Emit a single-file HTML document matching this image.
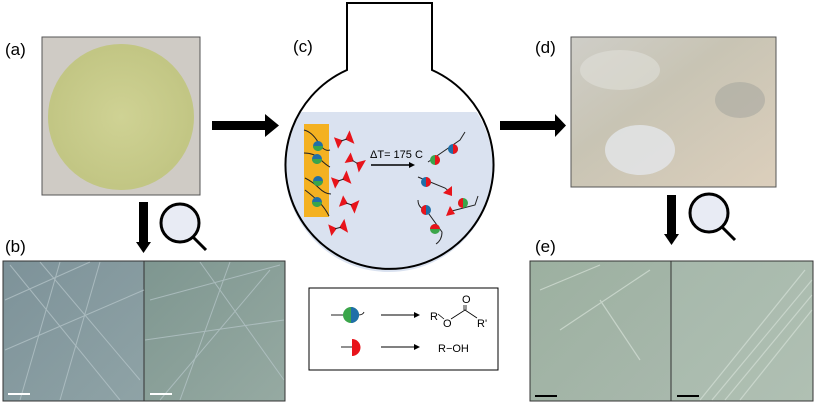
<!DOCTYPE html>
<html><head><style>
html,body{margin:0;padding:0;background:#fff;}
svg{display:block;font-family:"Liberation Sans",sans-serif;}
</style></head><body>
<svg width="817" height="406" viewBox="0 0 817 406" xmlns="http://www.w3.org/2000/svg">
<defs>
<radialGradient id="ga" cx="50%" cy="50%" r="60%"><stop offset="0" stop-color="#cfd294"/><stop offset="1" stop-color="#bfc380"/></radialGradient>
<linearGradient id="gd" x1="0" y1="0" x2="1" y2="1"><stop offset="0" stop-color="#cfcec8"/><stop offset="0.4" stop-color="#c8c4b4"/><stop offset="1" stop-color="#dccfbc"/></linearGradient>
<linearGradient id="gb1" x1="0" y1="0" x2="1" y2="1"><stop offset="0" stop-color="#7d9299"/><stop offset="1" stop-color="#8fa3a6"/></linearGradient>
<linearGradient id="gb2" x1="0" y1="0" x2="1" y2="1"><stop offset="0" stop-color="#7e9690"/><stop offset="1" stop-color="#96aaa2"/></linearGradient>
<linearGradient id="ge1" x1="0" y1="0" x2="1" y2="1"><stop offset="0" stop-color="#9cb0a0"/><stop offset="1" stop-color="#a8b8ac"/></linearGradient>
<linearGradient id="ge2" x1="0" y1="0" x2="1" y2="1"><stop offset="0" stop-color="#a6b8ab"/><stop offset="1" stop-color="#b0c0b3"/></linearGradient>
<clipPath id="fl"><circle cx="389" cy="168" r="104"/></clipPath>
</defs>

<!-- (a) -->
<text x="5" y="55" font-size="17">(a)</text>
<rect x="42" y="37" width="158" height="158" fill="#cfcbc5" stroke="#555" stroke-width="1"/>
<ellipse cx="121" cy="117" rx="73" ry="73" fill="url(#ga)"/>
<!-- arrow a->c -->
<rect x="212" y="121" width="55" height="9" fill="#000"/>
<polygon points="265,114 279,125.5 265,137" fill="#000"/>
<!-- down arrow -->
<rect x="139" y="202" width="9" height="42" fill="#000"/>
<polygon points="136,242 151,242 143.5,253" fill="#000"/>
<circle cx="180" cy="223" r="19" fill="#e8ebf4" stroke="#000" stroke-width="3"/>
<line x1="193" y1="237" x2="206" y2="250" stroke="#000" stroke-width="3"/>
<!-- (b) -->
<text x="5" y="252" font-size="17">(b)</text>
<rect x="3" y="261" width="141" height="140" fill="url(#gb1)" stroke="#333"/>
<rect x="144" y="261" width="141" height="140" fill="url(#gb2)" stroke="#333"/>
<g stroke="#b9c8cc" stroke-width="1" opacity="0.7">
<line x1="10" y1="265" x2="120" y2="400"/><line x1="40" y1="262" x2="140" y2="380"/><line x1="5" y1="300" x2="90" y2="262"/><line x1="60" y1="262" x2="20" y2="400"/><line x1="100" y1="262" x2="60" y2="400"/><line x1="5" y1="350" x2="144" y2="290"/>
<line x1="150" y1="300" x2="280" y2="265"/><line x1="160" y1="400" x2="270" y2="270"/><line x1="200" y1="262" x2="284" y2="380"/><line x1="145" y1="340" x2="284" y2="320"/><line x1="230" y1="262" x2="180" y2="400"/>
</g>
<rect x="8" y="393" width="22" height="2" fill="#fff"/><rect x="150" y="393" width="22" height="2" fill="#fff"/>

<!-- (c) flask -->
<text x="293" y="52" font-size="17">(c)</text>
<g clip-path="url(#fl)">
<rect x="280" y="112" width="220" height="170" fill="#dae2f0"/>
</g>
<path d="M347,3 L432,3 L432,70 A104,104 0 1 1 347,70 Z" fill="none" stroke="#000" stroke-width="2"/>
<rect x="304" y="124" width="25" height="93" fill="#f4b121"/>
<g stroke="#222" stroke-width="1" fill="none">
<path d="M304,130 q8,2 14,12 t12,8"/><path d="M304,153 q10,0 16,6 t10,8"/><path d="M305,178 q8,4 14,10 t12,6"/><path d="M305,190 q8,6 14,12 t10,14"/>
</g>
<g>
<circle cx="318" cy="146" r="5" fill="#1f6fa8"/><path d="M313,146 a5,5 0 0 0 10,0z" fill="#3aa54a"/>
<circle cx="317" cy="159" r="5" fill="#1f6fa8"/><path d="M312,159 a5,5 0 0 0 10,0z" fill="#3aa54a"/>
<circle cx="318" cy="181" r="5" fill="#1f6fa8"/><path d="M313,181 a5,5 0 0 0 10,0z" fill="#3aa54a"/>
<circle cx="317" cy="202" r="5" fill="#1f6fa8"/><path d="M312,202 a5,5 0 0 0 10,0z" fill="#3aa54a"/>
</g>
<g fill="#e8141b" stroke="#e8141b">
<g transform="translate(344,140) rotate(-20)"><polygon points="-8,-5 -8,5 -2,0"/><polygon points="8,-6 8,6 2,0"/><line x1="-3" y1="0" x2="3" y2="0" stroke="#222"/></g>
<g transform="translate(355,162) rotate(30)"><polygon points="-8,-5 -8,5 -2,0"/><polygon points="8,-6 8,6 2,0"/><line x1="-3" y1="0" x2="3" y2="0" stroke="#222"/></g>
<g transform="translate(341,180) rotate(-20)"><polygon points="-8,-5 -8,5 -2,0"/><polygon points="8,-6 8,6 2,0"/><line x1="-3" y1="0" x2="3" y2="0" stroke="#222"/></g>
<g transform="translate(349,204) rotate(20)"><polygon points="-8,-5 -8,5 -2,0"/><polygon points="8,-6 8,6 2,0"/><line x1="-3" y1="0" x2="3" y2="0" stroke="#222"/></g>
<g transform="translate(338,228) rotate(-15)"><polygon points="-8,-5 -8,5 -2,0"/><polygon points="8,-6 8,6 2,0"/><line x1="-3" y1="0" x2="3" y2="0" stroke="#222"/></g>
</g>
<text x="370" y="158" font-size="11">ΔT= 175 C</text>
<line x1="371" y1="165" x2="409" y2="165" stroke="#000" stroke-width="1.5"/>
<polygon points="409,162 415,165 409,168" fill="#000"/>
<g stroke="#222" stroke-width="1" fill="none">
<path d="M428,162 L460,140 L465,132"/><path d="M418,177 L445,188 L450,192"/><path d="M418,200 q0,8 8,10 L442,232 q0,8 -6,12"/><path d="M448,212 L475,205 L478,196"/>
</g>
<g>
<circle cx="435" cy="160" r="5" fill="#3aa54a"/><path d="M435,155 a5,5 0 0 1 0,10z" fill="#e8141b"/>
<circle cx="453" cy="149" r="5" fill="#1f6fa8"/><path d="M453,144 a5,5 0 0 1 0,10z" fill="#e8141b"/>
<circle cx="426" cy="182" r="5" fill="#1f6fa8"/><path d="M426,177 a5,5 0 0 1 0,10z" fill="#e8141b"/>
<polygon points="443,193 452,186 452,196" fill="#e8141b"/>
<circle cx="426" cy="210" r="5" fill="#1f6fa8"/><path d="M426,205 a5,5 0 0 0 0,10z" fill="#e8141b"/>
<circle cx="435" cy="229" r="5" fill="#3aa54a"/><path d="M430,229 a5,5 0 0 1 10,0z" fill="#e8141b"/>
<circle cx="463" cy="203" r="5" fill="#3aa54a"/><path d="M463,198 a5,5 0 0 0 0,10z" fill="#e8141b"/>
<polygon points="450,206 455,214 446,216" fill="#e8141b"/>
</g>

<!-- legend -->
<rect x="309" y="288" width="189" height="82" fill="#fff" stroke="#000" stroke-width="1"/>
<line x1="331" y1="315" x2="345" y2="315" stroke="#222"/><path d="M358,315 q5,0 6,-3" stroke="#222" fill="none"/>
<circle cx="351" cy="315" r="8" fill="#3aa54a"/><path d="M351,307 a8,8 0 0 1 0,16z" fill="#1f6fa8"/>
<line x1="381" y1="315" x2="416" y2="315" stroke="#000"/><polygon points="414,312 420,315 414,318" fill="#000"/>
<line x1="381" y1="347" x2="416" y2="347" stroke="#000"/><polygon points="414,344 420,347 414,350" fill="#000"/>
<line x1="341" y1="347" x2="352" y2="347" stroke="#222"/>
<path d="M352,339 a8,8 0 0 1 0,17z" fill="#e8141b"/>
<text x="430" y="320" font-size="11">R</text>
<text x="443" y="327" font-size="11">O</text>
<text x="462" y="303" font-size="11">O</text>
<text x="477" y="327" font-size="11">R'</text>
<g stroke="#000" stroke-width="0.8" fill="none"><path d="M438,314 L444,319"/><path d="M451,319 L465,310 L477,318"/><path d="M464,310 L464,305 M466,310 L466,305"/></g>
<text x="438" y="352" font-size="11">R−OH</text>

<!-- arrow c->d -->
<rect x="500" y="121" width="57" height="9" fill="#000"/>
<polygon points="555,114 566,125.5 555,137" fill="#000"/>
<!-- (d) -->
<text x="535" y="53" font-size="17">(d)</text>
<rect x="571" y="37" width="205" height="150" fill="url(#gd)" stroke="#555"/>
<ellipse cx="640" cy="150" rx="35" ry="25" fill="#e4e6ea" opacity="0.8"/>
<ellipse cx="620" cy="70" rx="40" ry="20" fill="#e0dfd8" opacity="0.6"/>
<ellipse cx="740" cy="100" rx="25" ry="18" fill="#a8a8a0" opacity="0.6"/>
<!-- down arrow -->
<rect x="667" y="195" width="9" height="40" fill="#000"/>
<polygon points="664,234 679,234 671.5,245" fill="#000"/>
<circle cx="709" cy="213" r="19" fill="#e8ebf4" stroke="#000" stroke-width="3"/>
<line x1="722" y1="227" x2="735" y2="240" stroke="#000" stroke-width="3"/>
<!-- (e) -->
<text x="535" y="252" font-size="17">(e)</text>
<rect x="530" y="261" width="141" height="140" fill="url(#ge1)" stroke="#333"/>
<rect x="671" y="261" width="142" height="140" fill="url(#ge2)" stroke="#333"/>
<g stroke="#d0dcd2" stroke-width="1.2" opacity="0.8">
<line x1="540" y1="290" x2="600" y2="265"/><line x1="560" y1="330" x2="650" y2="270"/><line x1="600" y1="300" x2="640" y2="360"/>
<line x1="700" y1="400" x2="805" y2="270"/><line x1="712" y1="400" x2="812" y2="280"/><line x1="725" y1="400" x2="812" y2="295"/><line x1="740" y1="400" x2="812" y2="310"/>
</g>
<rect x="535" y="395" width="22" height="2" fill="#000"/><rect x="677" y="395" width="22" height="2" fill="#000"/>
</svg>
</body></html>
